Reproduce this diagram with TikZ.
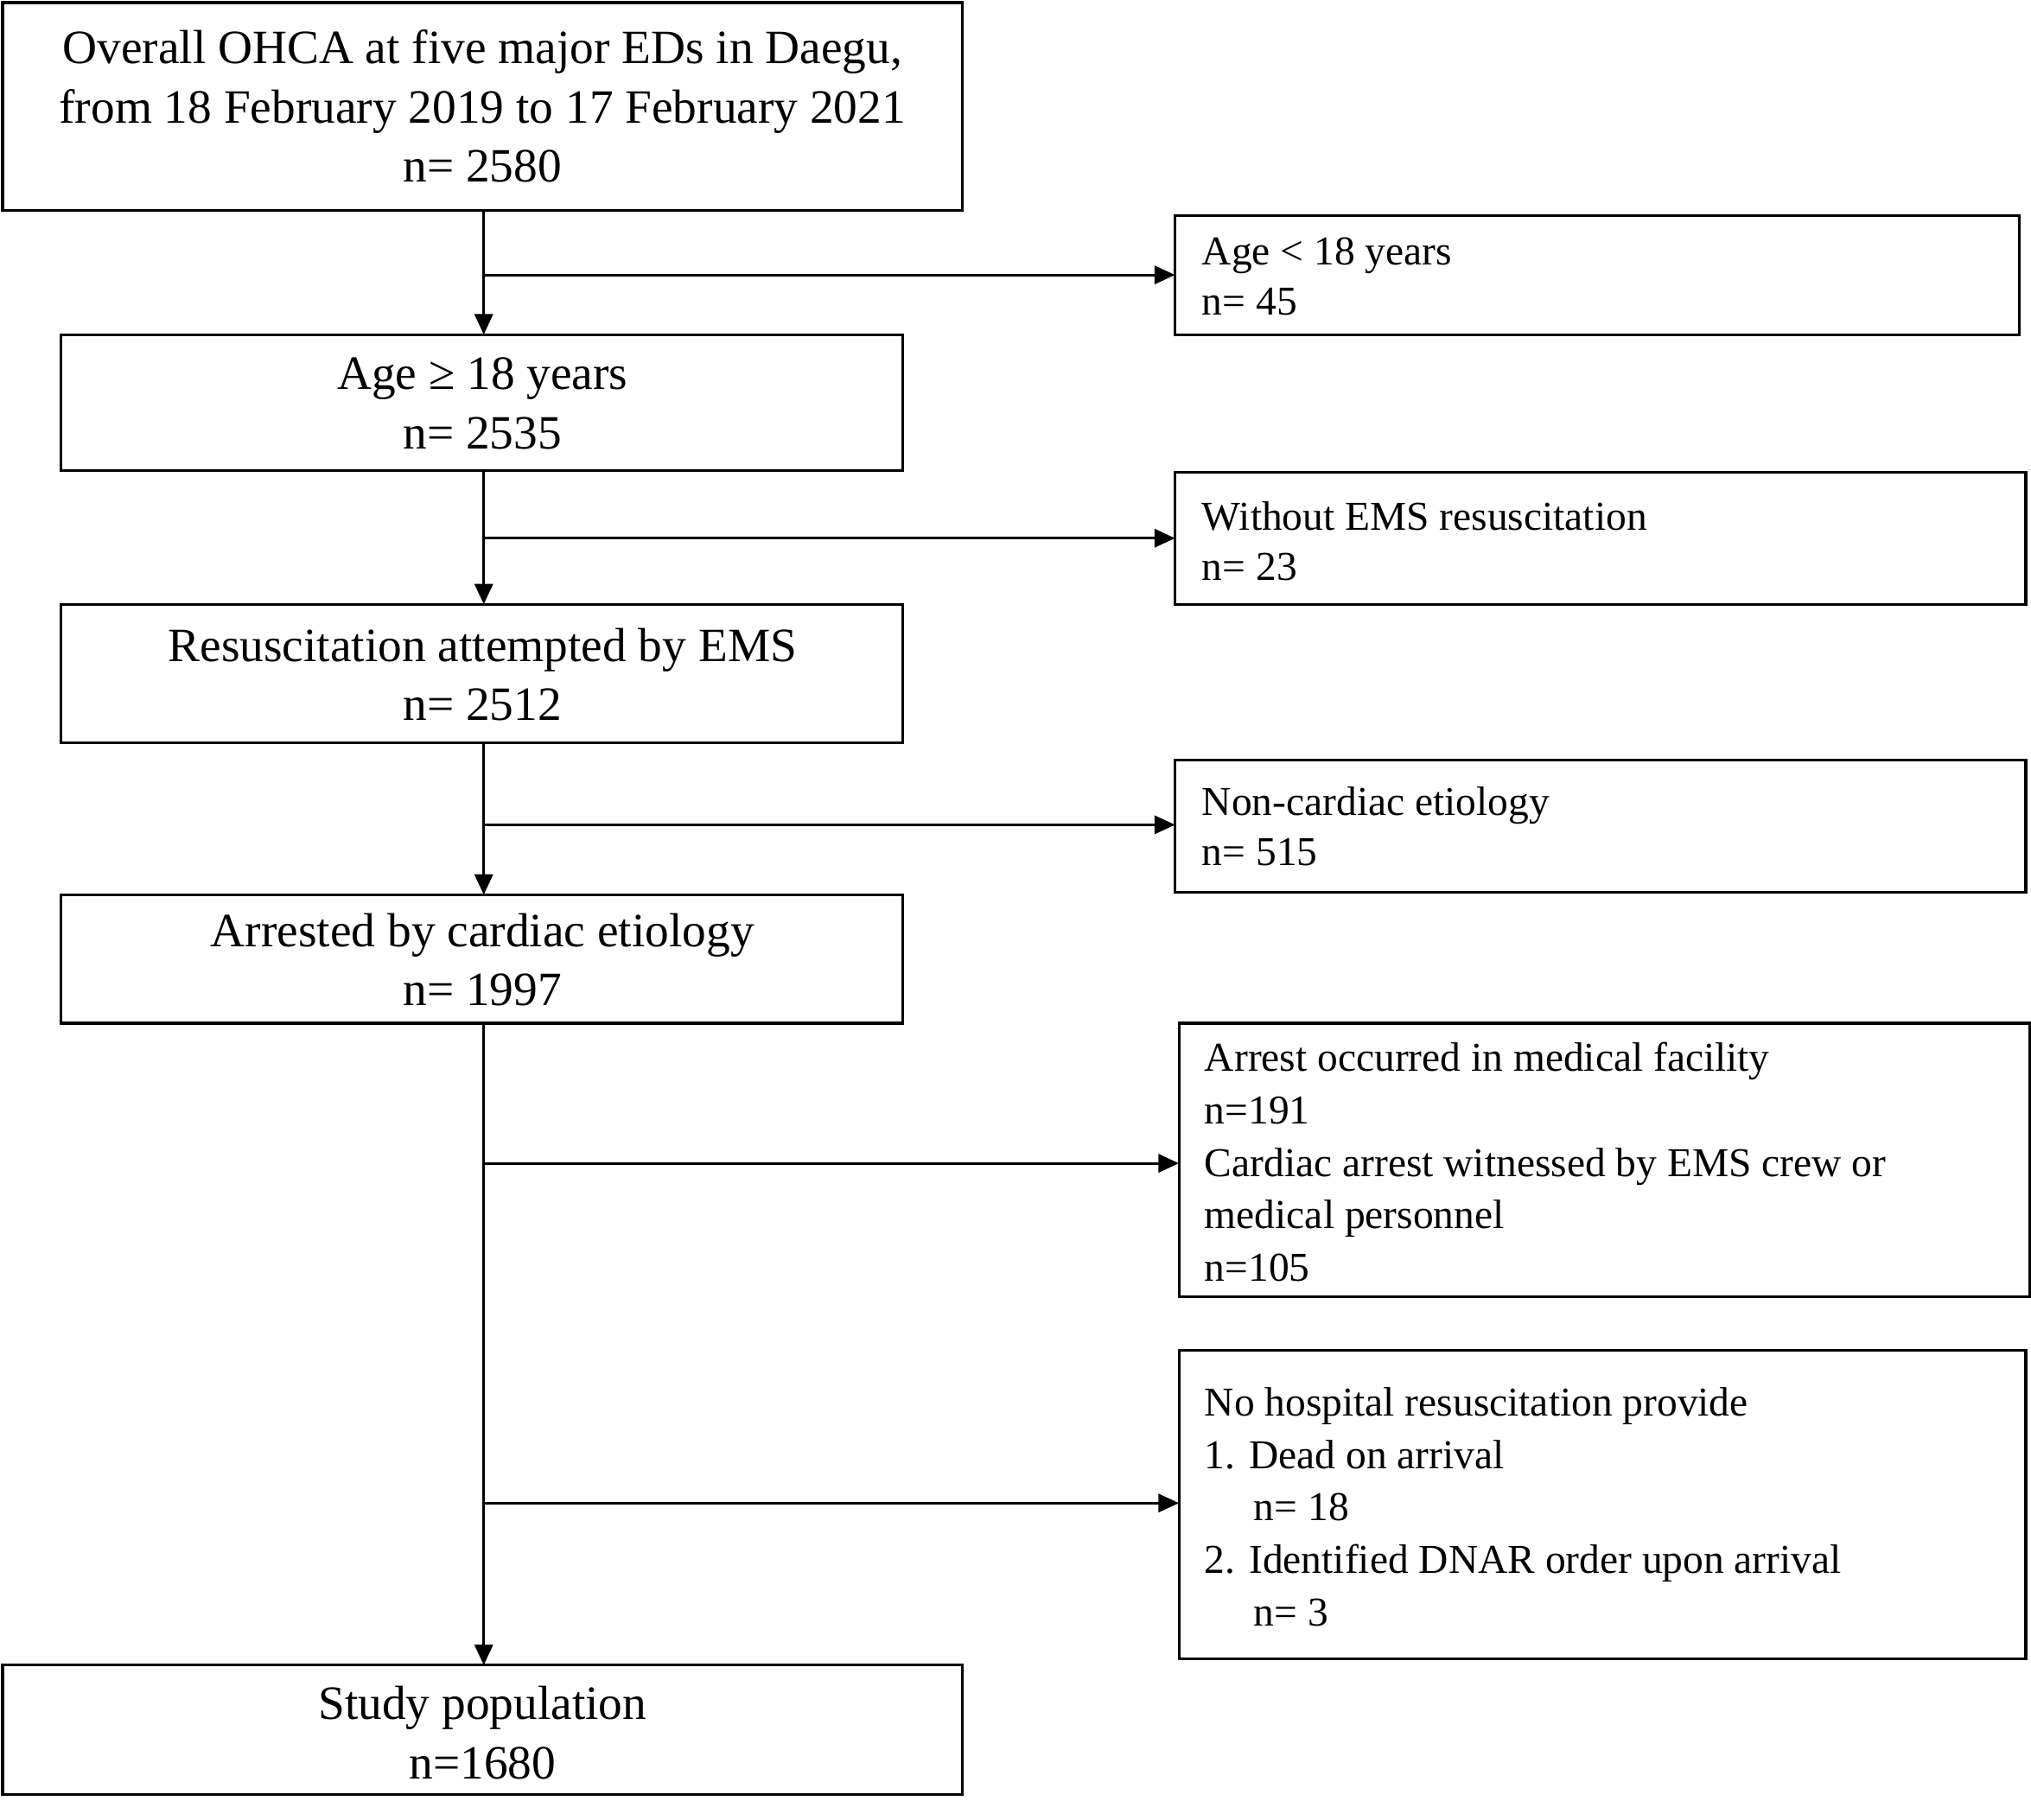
\documentclass[tikz,border=0pt]{standalone}
\usepackage{fontspec}
\setmainfont{Liberation Serif}
\usetikzlibrary{arrows.meta}
\begin{document}
\begin{tikzpicture}[x=0.02cm,y=-0.02cm,line width=1.2pt,
  big/.style={font=\fontsize{21}{26}\selectfont,align=center},
  small/.style={font=\fontsize{18}{22}\selectfont,align=left,anchor=west},
  arr/.style={-{Triangle[length=9pt,width=8pt]}}]
\useasboundingbox (0,0) rectangle (1566,1403);
% left boxes
\draw (2,2) rectangle (742,162);
\node[big] (b1) at (372,82) {Overall OHCA at five major EDs in Daegu,\\from 18 February 2019 to 17 February 2021\\n= 2580};
\draw (47,258) rectangle (696,363);
\node[big] (b2) at (372,311) {Age ≥ 18 years\\n= 2535};
\draw (47,466) rectangle (696,573);
\node[big] (b3) at (372,520) {Resuscitation attempted by EMS\\n= 2512};
\draw (47,690) rectangle (696,789);
\node[big] (b4) at (372,740) {Arrested by cardiac etiology\\n= 1997};
\draw (2,1284) rectangle (742,1384);
\node[big] (b5) at (372,1336) {Study population\\n=1680};
% right boxes
\draw (906,166) rectangle (1557,258);
\node[small] (r1) at (920,213) {Age < 18 years\\n= 45};
\draw (906,364) rectangle (1562,466);
\node[small] (r2) at (920,417) {Without EMS resuscitation\\n= 23};
\draw (906,586) rectangle (1562,688);
\node[small] (r3) at (920,637) {Non-cardiac etiology\\n= 515};
\draw (909,789) rectangle (1565,1000);
\node[small,font=\fontsize{18}{23}\selectfont] (r4) at (922,896) {Arrest occurred in medical facility\\n=191\\Cardiac arrest witnessed by EMS crew or\\medical personnel\\n=105};
\draw (909,1041) rectangle (1562,1279);
\node[small,font=\fontsize{18}{23}\selectfont] (r5) at (922,1162) {No hospital resuscitation provide\\1. Dead on arrival\\\hspace*{1.2em}n= 18\\2. Identified DNAR order upon arrival\\\hspace*{1.2em}n= 3};
% vertical arrows
\draw[arr] (373,162) -- (373,258);
\draw[arr] (373,363) -- (373,466);
\draw[arr] (373,573) -- (373,690);
\draw[arr] (373,789) -- (373,1284);
% side arrows
\draw[arr] (373,212) -- (906,212);
\draw[arr] (373,415) -- (906,415);
\draw[arr] (373,636) -- (906,636);
\draw[arr] (373,897) -- (909,897);
\draw[arr] (373,1159) -- (909,1159);
\end{tikzpicture}
\end{document}
